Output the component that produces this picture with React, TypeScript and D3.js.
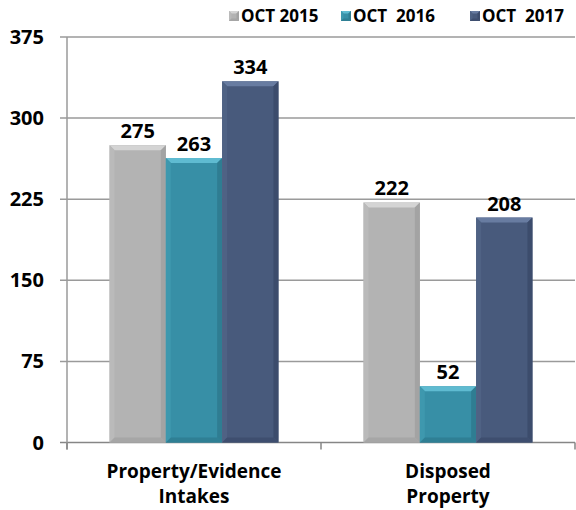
import React from "react";
import * as d3 from "d3";

const categories = ["Property/Evidence|Intakes", "Disposed|Property"];
const seriesNames = ["OCT 2015", "OCT  2016", "OCT  2017"];
const oct2015 = [275, 222];
const oct2016 = [263, 52];
const oct2017 = [334, 208];
const yTicks = [0, 75, 150, 225, 300, 375];

const seriesValues = [oct2015, oct2016, oct2017];
const colors = [
  { base: "#b3b3b3", top: "#d4d4d4", left: "#bababa", right: "#a3a3a3", bottom: "#a6a6a6" },
  { base: "#378fa6", top: "#5fbbd1", left: "#3e98ae", right: "#2f7d92", bottom: "#2f7f94" },
  { base: "#485a7c", top: "#687ca1", left: "#4f6284", right: "#3c4c6c", bottom: "#3e4e6f" },
];

const FONT = "'Open Sans', 'DejaVu Sans', sans-serif";

function Bar({ x, y, w, h, c, bev = 5 }: { x: number; y: number; w: number; h: number; c: typeof colors[0]; bev?: number }) {
  const b = Math.min(bev, h / 2);
  return (
    <g>
      <rect x={x} y={y} width={w} height={h} fill={c.base} />
      <polygon points={`${x},${y} ${x + w},${y} ${x + w - b},${y + b} ${x + b},${y + b}`} fill={c.top} />
      <polygon points={`${x},${y} ${x + b},${y + b} ${x + b},${y + h - b} ${x},${y + h}`} fill={c.left} />
      <polygon points={`${x + w},${y} ${x + w - b},${y + b} ${x + w - b},${y + h - b} ${x + w},${y + h}`} fill={c.right} />
      <polygon points={`${x},${y + h} ${x + b},${y + h - b} ${x + w - b},${y + h - b} ${x + w},${y + h}`} fill={c.bottom} />
    </g>
  );
}

export default function App() {
  const width = 576, height = 510;
  const left = 67, right = 575, top = 37, bottom = 442.5;
  const y = d3.scaleLinear().domain([0, 375]).range([bottom, top]);
  const x0 = d3.scaleBand<number>().domain(categories.map((_, i) => i)).range([left, right]).paddingInner(0.335).paddingOuter(0.1675);
  const x1 = d3.scaleBand<number>().domain([0, 1, 2]).range([0, x0.bandwidth()]);

  const legendX = [229, 341, 470];

  return (
    <svg width={width} height={height} style={{ position: "absolute", left: 0, top: 0 }}>
      <rect width={width} height={height} fill="#fff" />
      {yTicks.map((t) => (
        <g key={t}>
          <line x1={left - 7} x2={right} y1={y(t)} y2={y(t)} stroke={t === 0 ? "#868686" : "#9a9a9a"} strokeWidth={1.5} />
          <text x={44} y={y(t) + 7} textAnchor="end" fontFamily={FONT} fontWeight="bold" fontSize={20} fill="#000">{t}</text>
        </g>
      ))}
      <line x1={left} x2={left} y1={top} y2={bottom + 7} stroke="#9a9a9a" strokeWidth={1.5} />
      {[0, 1, 2].map((i) => {
        const xx = left + (i * (right - left)) / 2;
        return <line key={i} x1={xx} x2={xx} y1={bottom} y2={bottom + 7} stroke="#868686" strokeWidth={1.5} />;
      })}
      {categories.map((cat, ci) =>
        seriesValues.map((vals, si) => {
          const bx = (x0(ci) ?? 0) + (x1(si) ?? 0);
          const bw = x1.bandwidth();
          const by = y(vals[ci]);
          return (
            <g key={`${ci}-${si}`}>
              <Bar x={bx} y={by} w={bw} h={bottom - by} c={colors[si]} />
              <text x={bx + bw / 2} y={by - 7} textAnchor="middle" fontFamily={FONT} fontWeight="bold" fontSize={20} fill="#000">{vals[ci]}</text>
            </g>
          );
        })
      )}
      {categories.map((cat, ci) => {
        const cx = (x0(ci) ?? 0) + x0.bandwidth() / 2;
        return cat.split("|").map((line, li) => (
          <text key={`${ci}-${li}`} x={cx} y={478 + li * 25} textAnchor="middle" fontFamily={FONT} fontWeight="bold" fontSize={19} fill="#000">{line}</text>
        ));
      })}
      {seriesNames.map((s, i) => (
        <g key={s}>
          <Bar x={legendX[i]} y={11} w={10} h={10} c={colors[i]} bev={2.5} />
          <text x={legendX[i] + 12} y={22} fontFamily={FONT} fontWeight="bold" fontSize={17} fill="#000" style={{ whiteSpace: "pre" }}>{s}</text>
        </g>
      ))}
    </svg>
  );
}
